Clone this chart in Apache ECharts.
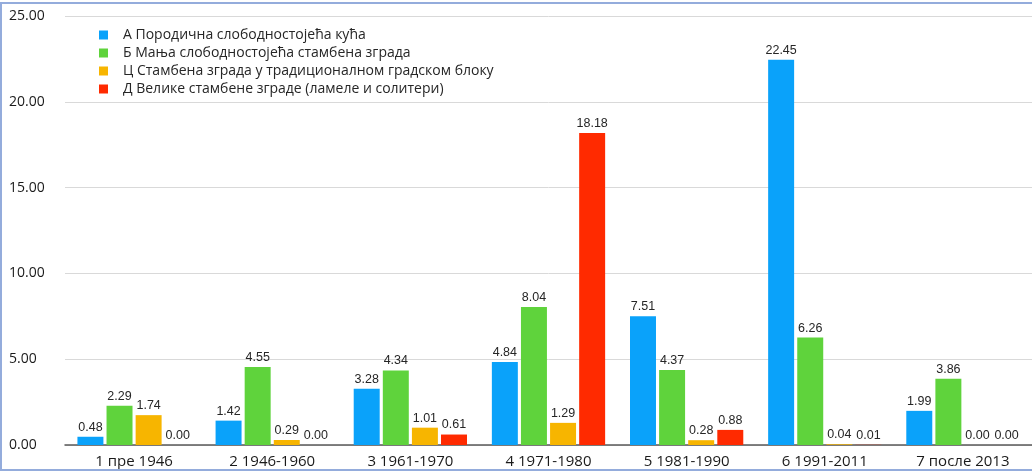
<!DOCTYPE html>
<html>
<head>
<meta charset="utf-8">
<script src="https://cdn.jsdelivr.net/npm/echarts@6/dist/echarts.min.js"></script>
<style>
  html, body { margin: 0; padding: 0; background: #fff; }
  #chart { width: 1032px; height: 473px; }
  #frame {
    position: absolute; left: 0; top: 2px; width: 1040px; height: 465px;
    border: 2px solid #94acdc; border-right: none; pointer-events: none;
  }
</style>
</head>
<body>
<div id="chart"></div>
<div id="frame"></div>
<script>
const categories = ["1 пре 1946", "2 1946-1960", "3 1961-1970", "4 1971-1980", "5 1981-1990", "6 1991-2011", "7 после 2013"];
const seriesNames = [
  "А Породична слободностојећа кућа",
  "Б Мања слободностојећа стамбена зграда",
  "Ц Стамбена зграда у традиционалном градском блоку",
  "Д Велике стамбене зграде (ламеле и солитери)"
];
const typeA = [0.48, 1.42, 3.28, 4.84, 7.51, 22.45, 1.99];
const typeB = [2.29, 4.55, 4.34, 8.04, 4.37, 6.26, 3.86];
const typeC = [1.74, 0.29, 1.01, 1.29, 0.28, 0.04, 0.00];
const typeD = [0.00, 0.00, 0.61, 18.18, 0.88, 0.01, 0.00];
const colors = ["#0aa2fa", "#5fd33c", "#f7b500", "#ff2a00"];

const chart = echarts.init(document.getElementById("chart"));

const makeSeries = (name, data, color) => ({
  name,
  type: "bar",
  data,
  barGap: "12%",
  barCategoryGap: "18%",
  itemStyle: { color },
  label: {
    show: true,
    position: "top",
    distance: 3,
    color: "#262626",
    fontFamily: "Liberation Sans, Arial, sans-serif",
    fontSize: 12.5,
    formatter: (p) => p.value.toFixed(2),
  },
});

const option = {
  animation: false,
  textStyle: { fontFamily: "Open Sans, sans-serif" },
  legend: {
    orient: "vertical",
    left: 94,
    top: 23,
    itemWidth: 9,
    itemHeight: 9,
    itemGap: 4,
    icon: "rect",
    data: seriesNames,
    textStyle: {
      fontSize: 14,
      lineHeight: 13,
      color: "#262626",
      padding: [0, 0, 0, 10],
    },
  },
  grid: { left: 65, right: -5, top: 16, bottom: 28 },
  xAxis: {
    type: "category",
    data: categories,
    axisTick: { show: false },
    axisLine: { lineStyle: { color: "#595959", width: 1.5 } },
    axisLabel: { color: "#1a1a1a", fontSize: 15, margin: 9 },
  },
  yAxis: {
    type: "value",
    min: 0,
    max: 25,
    interval: 5,
    axisLabel: {
      color: "#1a1a1a",
      fontSize: 14,
      align: "left",
      margin: 56,
      formatter: (v) => v.toFixed(2),
    },
    splitLine: { lineStyle: { color: "#d9d9d9", width: 1 } },
  },
  series: [
    makeSeries(seriesNames[0], typeA, colors[0]),
    makeSeries(seriesNames[1], typeB, colors[1]),
    makeSeries(seriesNames[2], typeC, colors[2]),
    makeSeries(seriesNames[3], typeD, colors[3]),
  ],
};

chart.setOption(option);
</script>
</body>
</html>
